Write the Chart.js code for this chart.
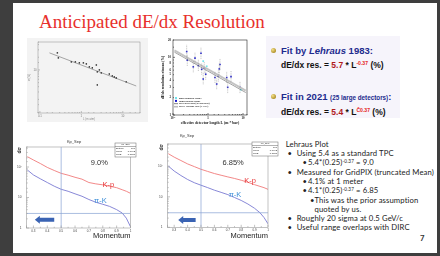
<!DOCTYPE html>
<html>
<head>
<meta charset="utf-8">
<script src="https://cdn.jsdelivr.net/npm/chart.js@4.4.1/dist/chart.umd.min.js"></script>
<style>
html, body { margin: 0; padding: 0; }
body { width: 440px; height: 256px; background: #3e3e3e; position: relative; overflow: hidden; font-family: "Liberation Sans", Arial, sans-serif; }
#slide { position: absolute; left: 13px; top: 3px; width: 424px; height: 250px; background: #fff; }
.abs { position: absolute; white-space: nowrap; }
canvas { position: absolute; }
#fitbox { position: absolute; left: 266px; top: 36px; width: 134px; height: 82px; background: #f6f4fb; }
.fit { position: absolute; white-space: nowrap; font-weight: bold; color: #1d2b8e; }
.eq { position: absolute; white-space: nowrap; font-weight: bold; color: #111; }
.dot { position: absolute; width: 5px; height: 5px; border-radius: 50%; background: radial-gradient(circle at 35% 35%, #f4e08a, #b0922a 70%); }
.rt { position: absolute; white-space: nowrap; font-family: Lato, "Liberation Sans", sans-serif; font-size: 7.7px; letter-spacing: 0.12px; line-height: 9px; color: #222; }
sup { font-size: 60%; vertical-align: 0; position: relative; top: -0.55em; }
</style>
</head>
<body>
<div id="slide"></div>
<div class="abs" style="left:39px;top:12px;font:19px/19px 'Liberation Serif',serif;color:#e8302c;">Anticipated dE/dx Resolution</div>

<canvas id="lehraus" width="121" height="84" style="left:27px;top:38px;background:#f3f3f3;"></canvas>
<canvas id="dedx" width="104" height="92" style="left:158px;top:36px;"></canvas>

<div id="fitbox"></div>
<div class="dot" style="left:271px;top:48px;"></div>
<div class="fit" style="left:281px;top:46px;font-size:9.5px;line-height:10px;">Fit by <i>Lehraus</i> 1983:</div>
<div class="eq" style="left:281px;top:61px;font-size:8.5px;line-height:8.5px;">dE/dx res. = <span style="color:#b01a1a">5.7</span> * L<sup style="color:#e52222">-0.37</sup> (%)</div>
<div class="dot" style="left:271px;top:94px;"></div>
<div class="fit" style="left:281px;top:92px;font-size:9.5px;line-height:10px;">Fit in 2021 <span style="font-size:6.3px">(25 large detectors)</span>:</div>
<div class="eq" style="left:281px;top:108px;font-size:8.5px;line-height:8.5px;">dE/dx res. = <span style="color:#b01a1a">5.4</span> * L<sup style="color:#e52222">Č0.37</sup> (%)</div>

<canvas id="kp1" width="124" height="110" style="left:14px;top:136px;"></canvas>
<canvas id="kp2" width="140" height="114" style="left:140px;top:132px;"></canvas>

<div class="rt" style="left:285.7px;top:140.4px;">Lehraus Plot</div>
<div class="rt" style="left:287.5px;top:149.4px;">•</div><div class="rt" style="left:296.7px;top:149.4px;">Using 5.4 as a standard TPC</div>
<div class="rt" style="left:302.5px;top:158.4px;">•</div><div class="rt" style="left:308px;top:158.4px;">5.4*(0.25)<sup>-0.37</sup> = 9.0</div>
<div class="rt" style="left:287.5px;top:168.1px;">•</div><div class="rt" style="left:296.7px;top:168.1px;">Measured for GridPIX (truncated Mean)</div>
<div class="rt" style="left:302.5px;top:177.1px;">•</div><div class="rt" style="left:308px;top:177.1px;">4.1% at 1 meter</div>
<div class="rt" style="left:302.5px;top:186.4px;">•</div><div class="rt" style="left:308px;top:186.4px;">4.1*(0.25)<sup>-0.37</sup> = 6.85</div>
<div class="rt" style="left:310px;top:196.4px;">•</div><div class="rt" style="left:314.5px;top:196.4px;">This was the prior assumption</div>
<div class="rt" style="left:314.5px;top:205.4px;">quoted by us.</div>
<div class="rt" style="left:287.5px;top:214.4px;">•</div><div class="rt" style="left:296.7px;top:214.4px;">Roughly 20 sigma at 0.5 GeV/c</div>
<div class="rt" style="left:287.5px;top:223.4px;">•</div><div class="rt" style="left:296.7px;top:223.4px;">Useful range overlaps with DIRC</div>
<div class="rt" style="left:420px;top:233.5px;font-weight:bold;color:#333;">7</div>

<script>
// ---- Kp_Sep histograms (separation in sigma vs momentum) ----
const momentum = [0.256, 0.30, 0.35, 0.40, 0.45, 0.50, 0.55, 0.60, 0.65, 0.70, 0.75, 0.80, 0.85, 0.90, 0.94, 0.97, 1.00];
// 9.0 % resolution
const kpSep90 = [218, 170, 130, 97, 77, 62, 54, 46, 40, 31, 28, 26, 23.5, 21, 18, 16, 13.7];
const piKSep90 = [80, 55, 41, 31, 23.5, 18.6, 16, 13.2, 11, 8.6, 7.0, 6.0, 5.1, 4.0, 3.1, 2.1, 1.1];
// 6.85 % resolution
const kpSep685 = [260, 200, 155, 120, 98, 80, 68, 58, 51, 45, 40, 35, 30, 25, 22, 20, 17.6];
const piKSep685 = [102, 70, 50, 37, 29, 24, 20, 16.5, 14, 11.8, 9.5, 7.6, 5.8, 4.2, 3.0, 2.1, 1.3];
const cutMomentum = 0.5;   // vertical guide line
const sepLevel = 3;        // 3 sigma guide line
const statNames = ['Entries', 'Mean', 'RMS'];
const statValues = ['100', '0.6402', '0.1888'];

// ---- Lehraus 1983 scan (top left) ----
const lehrausL = [0.264, 0.279, 0.574, 0.717, 0.895, 1.12, 1.32, 1.56, 1.84, 2.3, 2.43, 2.72, 3.03, 4.73, 5.58, 6.23, 6.96, 12.1, 2.43];
const lehrausRes = [25.4, 19.3, 15.5, 15.5, 14.7, 14.7, 13.9, 11.8, 11.2, 13.1, 9.0, 10, 8.5, 8.0, 7.2, 6.8, 6.45, 5.2, 4.4];
const lehrausFitL = [0.17, 21.1];
const lehrausFitRes = [25.4, 4.16];

// ---- 2021 compilation (top middle) ----
const singleL = [0.246, 0.256, 0.38, 0.425, 0.53, 0.63, 0.66, 0.78, 0.86, 0.73, 1.58, 1.77, 1.97, 2.1, 2.2, 3.42, 3.65, 4.54, 8.2];
const singleRes = [12.6, 8.9, 6.85, 9.7, 7.2, 11.8, 6.2, 6.6, 5.1, 4.2, 4.46, 3.45, 4.76, 6.3, 7.5, 4.46, 3.02, 4.63, 3.02];
const singleHi = [16.5, 11.5, 8.6, 12.3, 9.2, 14.8, 7.8, 8.3, 6.4, 5.3, 5.6, 4.3, 6.0, 7.9, 9.4, 5.6, 3.8, 5.8, 3.8];
const singleLo = [10.0, 7.1, 5.5, 7.7, 5.8, 9.4, 5.0, 5.3, 4.1, 3.4, 3.6, 2.8, 3.8, 5.0, 6.0, 3.6, 2.4, 3.7, 2.4];
const multiL = [0.73, 0.92, 8.75];
const multiRes = [8.6, 7.0, 2.76];
const fit2021L = [0.11, 12];
const fit2021Res = [12.3, 2.45];
const fit1983L = [0.11, 12];
const fit1983Res = [13.2, 2.65];
const legendItems = ['multi-hadronic tracks', 'single isolated tracks', 'Fit to 2021 data (25 detectors)', 'Fit by Lehraus 1983 (L-0.37)'];

Chart.defaults.font.family = "'Liberation Sans', Arial, sans-serif";

const pts = (xs, ys) => xs.map((v, i) => ({x: v, y: ys[i]}));
const isPow10 = v => Math.abs(Math.log10(v) - Math.round(Math.log10(v))) < 1e-6;
const powLabel = v => {
  if (!isPow10(v)) return '';
  const e = Math.round(Math.log10(v));
  return {'-1': '10⁻¹', '0': '1', '1': '10', '2': '10²'}[e] || '';
};
const tenthLabel = v => {
  const t = Math.round(v * 10);
  if (Math.abs(v * 10 - t) > 1e-6 || t < 3) return '';
  return t === 10 ? '1' : (t / 10).toFixed(1);
};

// extra drawing per chart (frame, inner ticks, labels)
const extras = {};

const slideMarks = {
  id: 'slideMarks',
  afterDatasetsDraw(chart) {
    const o = extras[chart.canvas.id];
    if (!o) return;
    const {ctx, chartArea: a} = chart;
    const x = chart.scales.x, y = chart.scales.y;
    ctx.save();
    ctx.strokeStyle = o.frame;
    ctx.lineWidth = o.frameWidth;
    ctx.strokeRect(a.left, a.top, a.right - a.left, a.bottom - a.top);
    ctx.beginPath();
    x.ticks.forEach(t => {
      const px = x.getPixelForValue(t.value);
      const big = o.logX ? isPow10(t.value) : tenthLabel(t.value) !== '' || Math.abs(t.value - 0.25) < 1e-6;
      ctx.moveTo(px, a.bottom);
      ctx.lineTo(px, a.bottom - (big ? o.tick : o.tick / 2));
    });
    y.ticks.forEach(t => {
      const py = y.getPixelForValue(t.value);
      ctx.moveTo(a.left, py);
      ctx.lineTo(a.left + (isPow10(t.value) ? o.tick : o.tick / 2), py);
    });
    ctx.stroke();

    (o.labels || []).forEach(l => {
      ctx.font = (l.bold ? 'bold ' : '') + l.size + "px 'Liberation Sans', Arial, sans-serif";
      ctx.fillStyle = l.color;
      ctx.textAlign = 'center';
      ctx.textBaseline = 'middle';
      ctx.fillText(l.text, x.getPixelForValue(l.x), y.getPixelForValue(l.y));
    });

    if (o.title) {
      ctx.font = "4px 'Liberation Sans', Arial, sans-serif";
      ctx.fillStyle = '#333';
      ctx.textAlign = 'center';
      ctx.textBaseline = 'middle';
      ctx.fillText(o.title.text, o.title.at[0], o.title.at[1]);
    }

    if (o.arrow) {
      const p0 = x.getPixelForValue(o.arrow.from), p1 = x.getPixelForValue(o.arrow.to);
      const py = y.getPixelForValue(o.arrow.y);
      ctx.fillStyle = '#3a63b3';
      ctx.beginPath();
      ctx.moveTo(p1, py);
      ctx.lineTo(p1 + 5, py - 4);
      ctx.lineTo(p1 + 5, py - 2);
      ctx.lineTo(p0, py - 2);
      ctx.lineTo(p0, py + 2);
      ctx.lineTo(p1 + 5, py + 2);
      ctx.lineTo(p1 + 5, py + 4);
      ctx.closePath();
      ctx.fill();
    }

    if (o.stats) {
      const [bx, by, bw, bh] = o.stats;
      ctx.fillStyle = '#fff';
      ctx.fillRect(bx, by, bw, bh);
      ctx.strokeStyle = '#666';
      ctx.lineWidth = 0.5;
      ctx.strokeRect(bx, by, bw, bh);
      ctx.beginPath();
      ctx.moveTo(bx, by + 3.5);
      ctx.lineTo(bx + bw, by + 3.5);
      ctx.stroke();
      ctx.fillStyle = '#222';
      ctx.font = "2.4px 'Liberation Sans', Arial, sans-serif";
      ctx.textBaseline = 'middle';
      ctx.textAlign = 'center';
      ctx.fillText('Kp_Sep', bx + bw / 2, by + 1.8);
      statNames.forEach((n, i) => {
        ctx.textAlign = 'left';
        ctx.fillText(n, bx + 1, by + 5.5 + i * 3);
        ctx.textAlign = 'right';
        ctx.fillText(statValues[i], bx + bw - 1, by + 5.5 + i * 3);
      });
    }

    if (o.legend) {
      const [lx, ly] = [a.left + 2, a.bottom - 17];
      ctx.font = "bold 2.4px 'Liberation Serif', serif";
      ctx.textAlign = 'left';
      ctx.textBaseline = 'middle';
      legendItems.forEach((txt, i) => {
        const yy = ly + i * 2.9;
        if (i === 0) { ctx.fillStyle = '#6fe3ec'; ctx.fillRect(lx, yy - 1, 2, 2); }
        if (i === 1) { ctx.fillStyle = '#1414d0'; ctx.fillRect(lx, yy - 1, 2, 2); }
        if (i === 2) { ctx.fillStyle = '#333'; ctx.fillRect(lx - 1, yy - 0.3, 4, 0.6); }
        if (i === 3) { ctx.fillStyle = '#bbb'; ctx.fillRect(lx - 1, yy - 0.8, 4, 1.6); }
        ctx.fillStyle = '#222';
        ctx.fillText(txt, lx + 4, yy);
      });
    }
    ctx.restore();
  }
};
Chart.register(slideMarks);

const baseOpts = (d) => ({
  responsive: false,
  animation: false,
  devicePixelRatio: 1,
  layout: {padding: {left: 0, top: d.top, right: d.right, bottom: 0}},
  plugins: {legend: {display: false}, tooltip: {enabled: false}, title: {display: false}},
});

// ---------- bottom Kp_Sep plots ----------
function kpChart(id, red, blue, yMax, d) {
  const opts = baseOpts(d);
  opts.scales = {
    x: {
      type: 'linear', min: 0.25, max: 1.0,
      grid: {display: false, drawTicks: false}, border: {display: false},
      ticks: {stepSize: 0.05, autoSkip: false, maxRotation: 0, padding: 1, font: {size: 3}, color: '#444', callback: v => tenthLabel(v)},
      title: {display: true, text: 'Momentum', align: 'end', color: '#222', font: {size: 7.5}, padding: {top: 0, bottom: 5.5}},
      afterFit: s => { s.height = d.xh; }
    },
    y: {
      type: 'logarithmic', min: 1, max: yMax,
      grid: {display: false, drawTicks: false}, border: {display: false},
      ticks: {autoSkip: false, padding: 5, font: {size: 3.2}, color: '#444', callback: v => powLabel(v)},
      title: {display: true, text: 'dσ', align: 'end', color: '#333', font: {size: 5, weight: 'bold'}, padding: {top: d.ytp, bottom: 0}},
      afterFit: s => { s.width = d.yw; }
    }
  };
  return new Chart(document.getElementById(id), {
    type: 'scatter',
    data: {
      datasets: [
        {data: [{x: cutMomentum, y: 1}, {x: cutMomentum, y: yMax}], showLine: true, borderColor: '#86a2d2', borderWidth: 0.7, pointRadius: 0},
        {data: [{x: 0.25, y: sepLevel}, {x: 1.0, y: sepLevel}], showLine: true, borderColor: '#86a2d2', borderWidth: 0.7, pointRadius: 0},
        {data: pts(momentum, red), showLine: true, borderColor: '#f07a7a', borderWidth: 0.9, pointRadius: 0},
        {data: pts(momentum, blue), showLine: true, borderColor: '#7b7bd3', borderWidth: 0.9, pointRadius: 0}
      ]
    },
    options: opts
  });
}

extras.kp1 = {
  frame: '#9a9a9a', frameWidth: 0.6, tick: 2.5,
  title: {text: 'Kp_Sep', at: [60, 6]},
  labels: [
    {text: '9.0%', x: 0.775, y: 135, color: '#333', size: 7.5},
    {text: 'K-p', x: 0.84, y: 25.7, color: '#e8383a', size: 7.5},
    {text: 'π-K', x: 0.783, y: 7.7, color: '#3d8fd8', size: 7.5}
  ],
  arrow: {from: 0.45, to: 0.31, y: 1.85},
  stats: [101, 7, 21, 14]
};
extras.kp2 = {
  frame: '#9a9a9a', frameWidth: 0.6, tick: 2.5,
  title: {text: 'Kp_Sep', at: [47, 4]},
  labels: [
    {text: '6.85%', x: 0.74, y: 128, color: '#333', size: 7.5},
    {text: 'K-p', x: 0.866, y: 33, color: '#e8383a', size: 7.5},
    {text: 'π-K', x: 0.754, y: 11.4, color: '#3d8fd8', size: 7.5}
  ],
  arrow: {from: 0.46, to: 0.33, y: 1.74},
  stats: [112, 10, 26, 14]
};

kpChart('kp1', kpSep90, piKSep90, 453, {top: 11, right: 7.5, xh: 18, yw: 12.5, ytp: 3});
kpChart('kp2', kpSep685, piKSep685, 540, {top: 12, right: 12, xh: 18.7, yw: 27.5, ytp: 18.7});

// ---------- Lehraus 1983 scan ----------
extras.lehraus = {frame: '#8c8c8c', frameWidth: 0.5, tick: 2, logX: true};
(() => {
  const opts = baseOpts({top: 4, right: 8});
  opts.scales = {
    x: {
      type: 'logarithmic', min: 0.09, max: 26,
      grid: {display: false, drawTicks: false}, border: {display: false},
      ticks: {autoSkip: false, maxRotation: 0, padding: 1.5, font: {size: 2.8}, color: '#777', callback: v => isPow10(v) ? ({'-1': '0.1', '0': '1', '1': '10'})[Math.round(Math.log10(v))] : ''},
      title: {display: true, text: 'L (m atm)', color: '#888', font: {size: 2.8}, padding: {top: 0, bottom: 1}},
      afterFit: s => { s.height = 9; }
    },
    y: {
      type: 'logarithmic', min: 0.95, max: 46,
      grid: {display: false, drawTicks: false}, border: {display: false},
      ticks: {autoSkip: false, padding: 1.5, font: {size: 2.8}, color: '#777', callback: v => Math.abs(v - 10) < 1e-6 ? '10' : ''},
      title: {display: true, text: 'σ (%)', color: '#888', font: {size: 2.8}, padding: {top: 1, bottom: 0}},
      afterFit: s => { s.width = 11; }
    }
  };
  new Chart(document.getElementById('lehraus'), {
    type: 'scatter',
    data: {datasets: [
      {data: pts(lehrausFitL, lehrausFitRes), showLine: true, borderColor: '#555', borderWidth: 0.5, pointRadius: 0},
      {data: pts(lehrausL, lehrausRes), pointStyle: 'rect', pointRadius: 1, backgroundColor: '#222', borderColor: '#222', borderWidth: 0}
    ]},
    options: opts
  });
})();

// ---------- 2021 compilation ----------
extras.dedx = {frame: '#222', frameWidth: 0.6, tick: 2, logX: true, legend: true};
(() => {
  const errBars = [];
  singleL.forEach((l, i) => {
    errBars.push({x: l, y: singleLo[i]}, {x: l, y: singleHi[i]}, {x: l, y: null});
  });
  const serif = "'Liberation Serif', serif";
  const opts = baseOpts({top: 3, right: 15});
  opts.scales = {
    x: {
      type: 'logarithmic', min: 0.1, max: 13,
      grid: {display: false, drawTicks: false}, border: {display: false},
      ticks: {autoSkip: false, maxRotation: 0, padding: 1.5, font: {size: 3, family: serif, weight: 'bold'}, color: '#111', callback: v => powLabel(v)},
      title: {display: true, text: 'effective detector length L (m * bar)', color: '#111', font: {size: 3.8, family: serif, weight: 'bold'}, padding: {top: 0, bottom: 2.6}},
      afterFit: s => { s.height = 13; }
    },
    y: {
      type: 'logarithmic', min: 1, max: 20,
      grid: {display: false, drawTicks: false}, border: {display: false},
      ticks: {autoSkip: false, padding: 2, font: {size: 3, family: serif, weight: 'bold'}, color: '#111',
        callback: v => [1, 2, 3, 4, 5, 6, 8, 10, 20].some(k => Math.abs(k - v) < 1e-6) ? String(Math.round(v)) : ''},
      title: {display: true, text: 'dE/dx resolution σ/mean (%)', color: '#111', font: {size: 3.5, family: serif, weight: 'bold'}, padding: {top: 3, bottom: 0}},
      afterFit: s => { s.width = 15; }
    }
  };
  new Chart(document.getElementById('dedx'), {
    type: 'scatter',
    data: {datasets: [
      {data: errBars, showLine: true, spanGaps: false, borderColor: '#8a8a8a', borderWidth: 0.5, borderDash: [1, 0.7], pointRadius: 0},
      {data: pts(fit1983L, fit1983Res), showLine: true, borderColor: '#c4c4c4', borderWidth: 1.8, pointRadius: 0},
      {data: pts(fit2021L, fit2021Res), showLine: true, borderColor: '#444', borderWidth: 0.5, pointRadius: 0},
      {data: pts(multiL, multiRes), pointStyle: 'rect', pointRadius: 1.2, backgroundColor: '#6fe3ec', borderWidth: 0},
      {data: pts(singleL, singleRes), pointStyle: 'rect', pointRadius: 1.1, backgroundColor: '#1414d0', borderWidth: 0}
    ]},
    options: opts
  });
})();
</script>
</body>
</html>
